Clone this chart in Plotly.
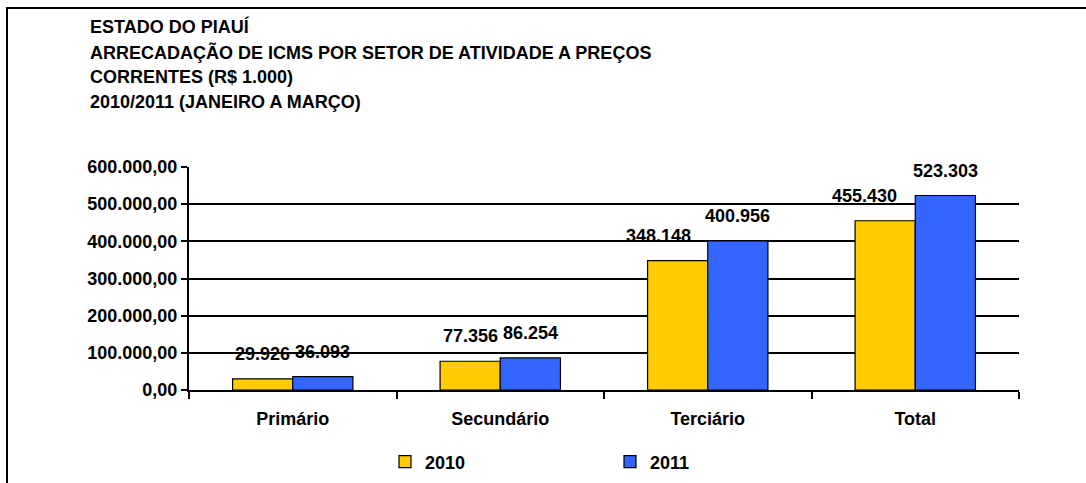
import plotly.graph_objects as go

categories = ["Primário", "Secundário", "Terciário", "Total"]
series_names = ["2010", "2011"]
values_2010 = [29926, 77356, 348148, 455430]
values_2011 = [36093, 86254, 400956, 523303]
colors = ["#FFCC00", "#3366FF"]
y_ticks = [0, 100000, 200000, 300000, 400000, 500000, 600000]
y_tick_labels = ["0,00", "100.000,00", "200.000,00", "300.000,00", "400.000,00", "500.000,00", "600.000,00"]
title_lines = [
    "ESTADO DO PIAUÍ",
    "ARRECADAÇÃO DE ICMS POR SETOR DE ATIVIDADE A PREÇOS",
    "CORRENTES (R$ 1.000)",
    "2010/2011 (JANEIRO A MARÇO)",
]

FONT = "Liberation Sans, Arial, sans-serif"
W, H = 1086, 483
ML, MR, MT, MB = 189, 67, 167, 93
plot_w = W - ML - MR
plot_h = H - MT - MB


def px_x(px):
    return (px - ML) / plot_w


def px_y(py):
    return (H - MB - py) / plot_h


def fmt(v):
    return f"{v:,}".replace(",", ".")


fig = go.Figure()
for name, vals, col in zip(series_names, [values_2010, values_2011], colors):
    fig.add_trace(go.Bar(
        name=name, x=categories, y=vals,
        marker=dict(color=col, line=dict(color="black", width=1.2)),
    ))

# small manual nudges of individual value labels (as in the original chart)
label_nudge = {(0, 2): -19, (0, 3): -21}

annotations = []
for i, vals in enumerate([values_2010, values_2011]):
    for j, (c, v) in enumerate(zip(categories, vals)):
        annotations.append(dict(
            x=c, y=v, xref="x", yref="y", text=fmt(v), showarrow=False,
            xshift=(-30 if i == 0 else 30) + label_nudge.get((i, j), 0),
            yshift=13, yanchor="bottom",
            font=dict(family=FONT, size=18, color="black", weight="bold"),
        ))

title_y = [26, 52, 77, 102]
for k, line in enumerate(title_lines):
    annotations.append(dict(
        x=px_x(88), y=px_y(title_y[k]), xref="paper", yref="paper", text=line,
        showarrow=False, xanchor="left", yanchor="middle",
        font=dict(family=FONT, size=18, color="black", weight="bold"),
    ))

fig.update_layout(
    width=W, height=H,
    margin=dict(l=ML, r=MR, t=MT, b=MB, autoexpand=False),
    paper_bgcolor="white", plot_bgcolor="white",
    barmode="group", bargap=0.42, bargroupgap=0,
    font=dict(family=FONT, size=18, color="black", weight="bold"),
    showlegend=True,
    legend=dict(
        orientation="h", x=px_x(385), xanchor="left", y=px_y(462), yanchor="middle",
        font=dict(family=FONT, size=18, color="black", weight="bold"),
        entrywidth=180, entrywidthmode="pixels", itemwidth=30,
        bgcolor="rgba(0,0,0,0)",
    ),
    xaxis=dict(
        showline=True, linecolor="black", linewidth=2,
        ticks="outside", tickson="boundaries", ticklen=7, tickcolor="black", tickwidth=2,
        ticklabelstandoff=11, showgrid=False,
        tickfont=dict(family=FONT, size=18, color="black", weight="bold"),
    ),
    yaxis=dict(
        range=[0, 600000], tickvals=y_ticks, ticktext=y_tick_labels,
        showline=True, linecolor="black", linewidth=2,
        ticks="outside", ticklen=6, tickcolor="black", tickwidth=2,
        showgrid=True, gridcolor="black", gridwidth=1.5, zeroline=False,
        tickfont=dict(family=FONT, size=18, color="black", weight="bold"),
    ),
    annotations=annotations,
    shapes=[dict(
        type="rect", xref="paper", yref="paper",
        x0=px_x(7), x1=px_x(1200), y0=px_y(700), y1=px_y(8),
        line=dict(color="black", width=2),
    )],
)

fig.write_html(
    "out.html",
    config={"displayModeBar": False},
    post_script="document.body.style.margin='0';document.body.style.overflow='hidden';",
)
